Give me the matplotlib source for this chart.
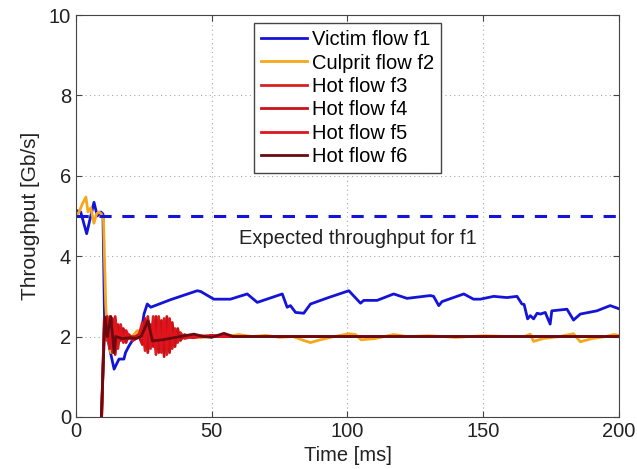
import matplotlib
matplotlib.use('Agg')
from matplotlib import pyplot as plt

plt.rcParams['font.family'] = ['Liberation Sans', 'DejaVu Sans']

# victim flow f1
t_f1 = [0, 1.8, 4.0, 5.5, 6.7, 7.9, 9.2, 10.0, 10.6, 12.9, 14.1, 15.9, 17.7, 18.3, 19.6, 20.8,
        23.9, 25.1, 26.3, 27.6, 35, 44.7, 46, 50.8, 56.9, 63.1, 66.8, 76, 77.8, 79, 80.9, 83.9,
        86.4, 93, 100.5, 104.8, 106, 110.9, 117, 121.9, 130.5, 131.7, 133.6, 134.8, 142.8, 146.4,
        148.9, 153.8, 158.7, 162.4, 164.2, 165, 166.3, 167.3, 168.5, 169.8, 171, 172.8, 173.4,
        174.6, 175.2, 180.8, 183.2, 185.7, 191.8, 196.7, 200]
y_f1 = [5.14, 5.1, 4.56, 5.0, 5.34, 5.0, 5.1, 5.05, 2.31, 1.56, 1.19, 1.44, 1.44, 1.6, 1.77, 1.9,
        2.02, 2.56, 2.81, 2.73, 2.92, 3.14, 3.12, 2.93, 2.93, 3.06, 2.85, 3.06, 2.73, 2.77, 2.6, 2.58,
        2.81, 2.97, 3.14, 2.83, 2.9, 2.9, 3.06, 2.95, 3.02, 3.0, 2.77, 2.87, 3.06, 2.93,
        2.93, 3.0, 2.97, 3.0, 2.81, 2.8, 2.44, 2.52, 2.44, 2.58, 2.56, 2.6, 2.5,
        2.31, 2.64, 2.68, 2.41, 2.56, 2.64, 2.77, 2.69]

# culprit flow f2
t_f2 = [0, 1.2, 2.4, 3.7, 4.5, 5.5, 6.7, 7.6, 8.5, 9.4, 10.2, 11, 11.6, 12.9, 14, 15.5, 17, 19,
        20.5, 22.7, 24, 26, 28, 32, 36, 40, 43.5, 46, 50, 55, 60, 65, 70, 75, 80, 84, 86.4, 90, 95,
        100.5, 103, 105, 110, 117, 122, 130, 140, 150, 160, 165, 167.3, 168.5, 172, 178, 183.2,
        185.7, 190, 195, 198, 200]
y_f2 = [5.0, 5.1, 5.3, 5.47, 5.1, 5.2, 4.82, 5.05, 5.1, 5.05, 4.9, 2.81, 2.07, 1.6, 1.94, 2.1, 1.95, 2.05,
        1.98, 2.15, 2.0, 1.95, 2.0, 2.02, 1.98, 2.0, 2.05, 1.97, 2.02, 2.0, 2.05, 2.0, 2.03, 1.98, 2.0, 1.9, 1.85, 1.92, 2.0,
        2.07, 2.05, 1.92, 1.95, 2.05, 2.0, 2.02, 1.98, 2.02, 2.0, 2.0, 2.06, 1.88, 1.95, 2.0, 2.07,
        1.87, 1.95, 2.0, 2.05, 2.03]

# hot flows f3..f6
t_hot = [9.5, 10.5, 11.5, 12.5, 13.5, 14.5, 15.5, 16.5, 17.5, 18.5, 19.5, 21, 23, 24.5, 25.5, 26.5,
         27.5, 28.5, 29.5, 30.5, 31.5, 32.5, 33.5, 34.5, 35.5, 36.5, 37.5, 38.5, 40, 43, 46, 50,
         55, 60, 80, 100, 120, 140, 160, 180, 200]
y_f3 = [0, 2.45, 1.9, 2.5, 1.6, 2.4, 1.7, 2.3, 1.9, 2.1, 1.95, 2.0, 1.98, 2.35, 1.65, 2.4, 1.7, 2.5,
        1.55, 2.5, 1.6, 2.45, 1.55, 2.3, 1.7, 2.2, 1.85, 2.1, 1.95, 2.0, 2.02, 2.0, 2.0, 2.0, 2.0, 2.0,
        2.0, 2.0, 2.0, 2.0, 2.0]
y_f4 = [0, 2.2, 2.5, 1.7, 2.45, 1.55, 2.3, 1.9, 2.2, 1.85, 2.05, 1.95, 2.05, 1.8, 2.45, 1.6, 2.3, 1.75,
        2.5, 1.6, 2.4, 1.5, 2.5, 1.6, 2.35, 1.75, 2.2, 1.9, 2.05, 1.97, 2.0, 2.03, 2.0, 2.0, 2.0, 2.0,
        2.0, 2.0, 2.0, 2.0, 2.0]
y_f5 = [0, 2.4, 2.0, 2.35, 1.75, 2.5, 1.8, 2.2, 1.85, 2.15, 2.0, 1.9, 2.0, 2.2, 1.75, 2.5, 1.8, 2.35,
        1.7, 2.3, 1.75, 2.4, 1.7, 2.45, 1.8, 2.1, 1.95, 2.0, 2.0, 1.98, 2.0, 2.0, 2.0, 2.0, 2.0, 2.0,
        2.0, 2.0, 2.0, 2.0, 2.0]
t_f6 = [9.4, 10.7, 11.6, 12.9, 14.1, 14.7, 17, 20, 22, 24, 26.6, 28.2, 32, 36, 40, 43.5, 47, 50,
        54.5, 58, 70, 100, 130, 160, 200]
y_f6 = [0, 2.48, 2.0, 2.5, 1.6, 2.0, 1.95, 1.97, 1.95, 2.0, 2.39, 1.89, 1.92, 1.97, 2.02, 2.06, 2.0,
        1.98, 2.08, 2.0, 2.0, 2.0, 2.0, 2.0, 2.0]

expected = 5.0

fig = plt.figure(figsize=(6.37, 4.69), dpi=100)
ax = fig.add_axes([0.119, 0.111, 0.853, 0.857])

ax.plot(t_f1, y_f1, color='#1414d8', lw=2, label='Victim flow f1')
ax.plot(t_f2, y_f2, color='#f5a81c', lw=2, label='Culprit flow f2')
ax.plot(t_hot, y_f3, color='#d82020', lw=2, label='Hot flow f3')
ax.plot(t_hot, y_f4, color='#cc1018', lw=2, label='Hot flow f4')
ax.plot(t_hot, y_f5, color='#e0141c', lw=2, label='Hot flow f5')
ax.plot(t_f6, y_f6, color='#6a0a10', lw=2, label='Hot flow f6')
ax.axhline(expected, color='#1414d8', lw=2.2, ls=(0, (4, 3.5)))
ax.text(60, 4.44, 'Expected throughput for f1', fontsize=14.5, va='center', color='#222222')

ax.set_xlim(0, 200)
ax.set_ylim(0, 10)
ax.set_xticks([0, 50, 100, 150, 200])
ax.set_yticks([0, 2, 4, 6, 8, 10])
ax.tick_params(direction='in', top=True, right=True, labelsize=14.5, colors='#444444',
               labelcolor='#222222', length=4)
for s in ax.spines.values():
    s.set_color('#444444')
ax.grid(True, ls=(0, (1, 3)), color='#aaaaaa', lw=0.8)
ax.set_xlabel('Time [ms]', fontsize=14.5, color='#222222', labelpad=4)
ax.set_ylabel('Throughput [Gb/s]', fontsize=15, color='#222222', labelpad=6)

leg = ax.legend(loc='upper center', fontsize=14.5, labelspacing=0.22, handlelength=2.25,
                handletextpad=0.25, borderpad=0.35, borderaxespad=0, fancybox=False,
                framealpha=1, bbox_to_anchor=(0.5, 0.98))
leg.get_frame().set_edgecolor('#444444')
leg.get_frame().set_linewidth(1)

plt.savefig('out.png', dpi=100)
